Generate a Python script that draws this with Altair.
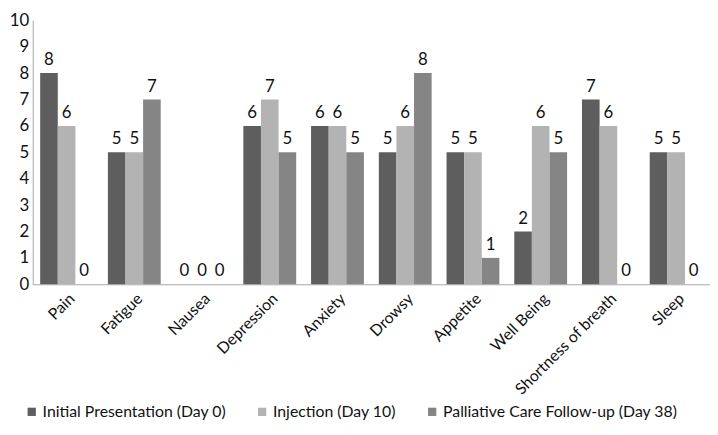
import altair as alt
import pandas as pd

categories = ["Pain", "Fatigue", "Nausea", "Depression", "Anxiety", "Drowsy",
              "Appetite", "Well Being", "Shortness of breath", "Sleep"]
series = ["Initial Presentation (Day 0)", "Injection (Day 10)", "Palliative Care Follow-up (Day 38)"]
initial = [8, 5, 0, 6, 6, 5, 5, 2, 7, 5]
injection = [6, 5, 0, 7, 6, 6, 5, 6, 6, 5]
followup = [0, 7, 0, 5, 5, 8, 1, 5, 0, 0]
colors = ["#5e5e5e", "#b3b3b3", "#858585"]
y_ticks = list(range(0, 11))

rows = []
for i, c in enumerate(categories):
    for s, vals in zip(series, [initial, injection, followup]):
        rows.append({"Symptom": c, "Series": s, "Value": vals[i]})
df = pd.DataFrame(rows)

FONT = "Lato"

x = alt.X("Symptom:N", sort=categories, title=None,
          scale=alt.Scale(paddingInner=0.22, paddingOuter=0.11),
          axis=alt.Axis(labelAngle=-45, labelFontSize=16, labelColor="#111",
                        ticks=False, domainColor="#a8a8a8", labelPadding=6,
                        labelFont=FONT, labelLimit=0))
xo = alt.XOffset("Series:N", sort=series, scale=alt.Scale(paddingInner=0, paddingOuter=0))
y = alt.Y("Value:Q", title=None, scale=alt.Scale(domain=[0, 10], nice=False),
          axis=alt.Axis(values=y_ticks, grid=False, ticks=False,
                        domainColor="#a8a8a8", labelFontSize=17, labelColor="#111",
                        labelPadding=4, labelFont=FONT, labelOverlap=False,
                        labelFlush=False, labelBound=False))

base = alt.Chart(df).encode(x=x, xOffset=xo, y=y)

bars = base.mark_bar().encode(
    color=alt.Color("Series:N", sort=series,
                    scale=alt.Scale(domain=series, range=colors),
                    legend=alt.Legend(title=None, orient="none", direction="horizontal",
                                      legendX=-9, legendY=388, symbolType="square",
                                      symbolSize=70, symbolStrokeWidth=0,
                                      labelFontSize=16, labelFont=FONT, labelColor="#111",
                                      labelLimit=0, columnPadding=28, symbolOffset=0,
                                      labelOffset=3)),
)

labels = base.mark_text(dy=-13, fontSize=17, font=FONT, color="#111").encode(
    text=alt.Text("Value:Q"),
)

chart = (bars + labels).properties(
    width=685, height=267,
    autosize=alt.AutoSizeParams(type="none"),
    padding={"left": 25, "top": 10, "right": 0, "bottom": 150},
).configure_view(stroke=None)

chart.save("out.html", embed_options={"renderer": "svg", "actions": False})
